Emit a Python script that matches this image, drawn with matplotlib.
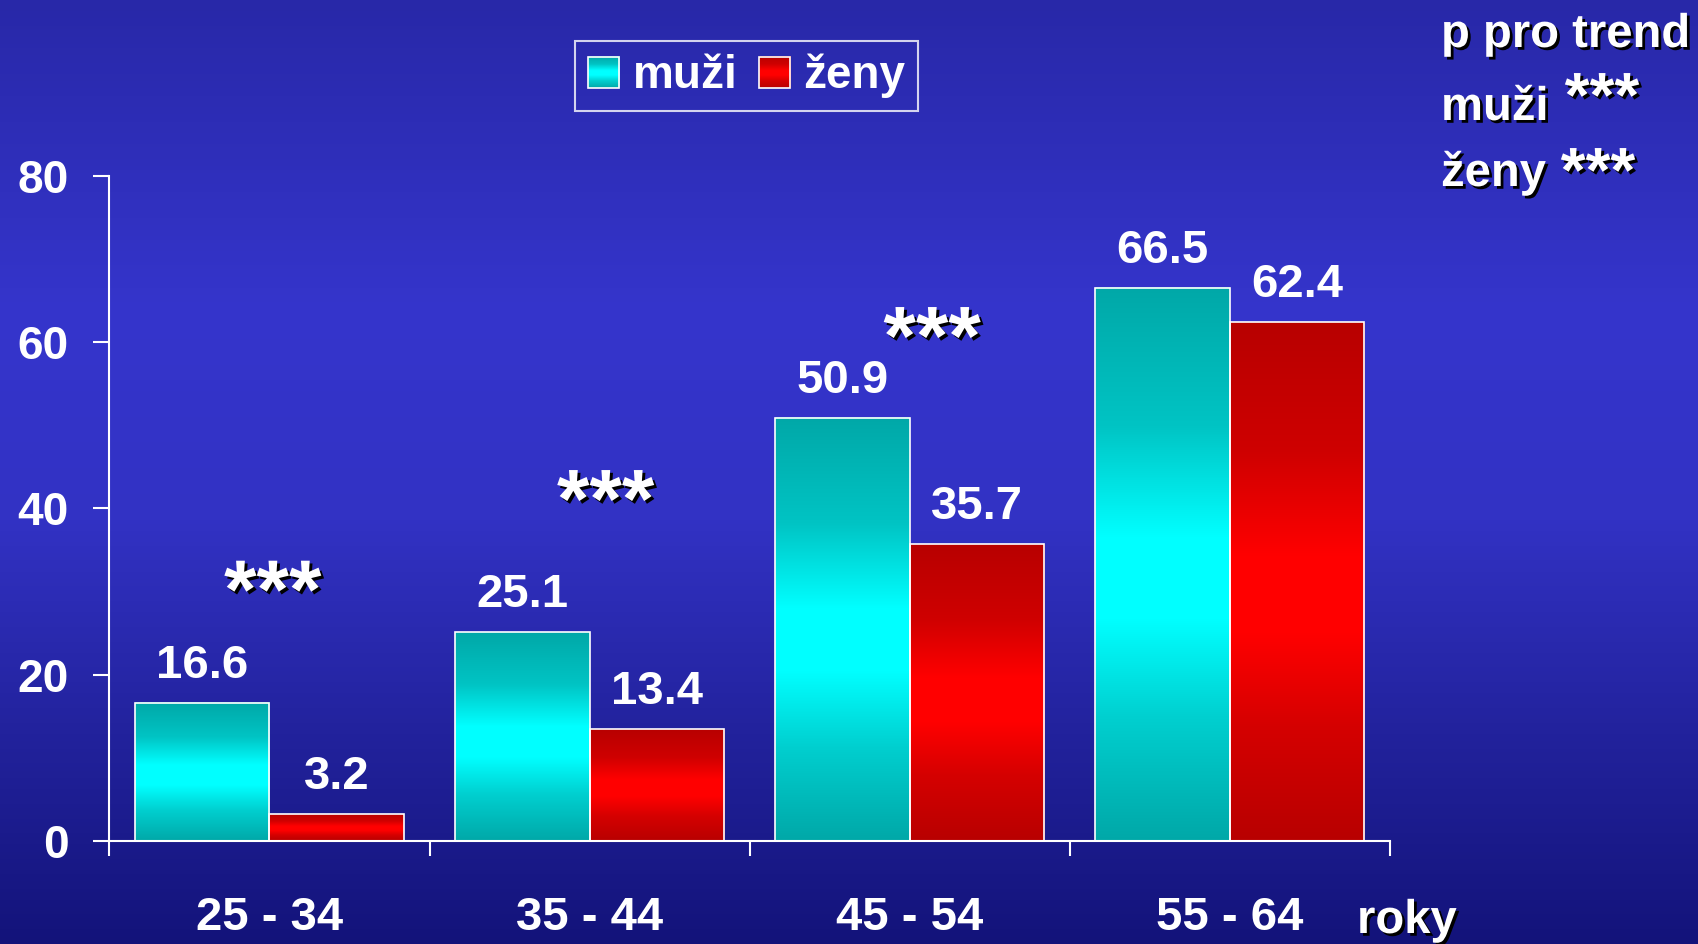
import matplotlib
matplotlib.use('Agg')
import matplotlib.pyplot as plt
import matplotlib.patheffects as pe
import numpy as np
from matplotlib.colors import LinearSegmentedColormap
from matplotlib.legend_handler import HandlerBase
from matplotlib.image import BboxImage
from matplotlib.transforms import Bbox, TransformedBbox
from matplotlib.patches import Rectangle

plt.rcParams['font.family'] = ['Liberation Sans', 'DejaVu Sans']
plt.rcParams['font.weight'] = 'bold'

# Data
age_groups = ['25 - 34', '35 - 44', '45 - 54', '55 - 64']
muzi = [16.6, 25.1, 50.9, 66.5]
zeny = [3.2, 13.4, 35.7, 62.4]
series_names = ['muži', 'ženy']
# significance stars between sexes (group index, baseline height)
star_groups = [0, 1, 2]
star_levels = [26.8, 37.7, 57.3]
star_xshift = [0.01, 1.05, 2.07]

# Colours
bg_cmap = LinearSegmentedColormap.from_list('bg', [(0, '#2828a8'), (0.33, '#3535cc'), (0.55, '#3232c4'),
                                                   (0.78, '#22229c'), (1, '#13137a')])
cyan_cmap = LinearSegmentedColormap.from_list('cy', [(0, '#00a8a8'), (0.25, '#00c4c4'), (0.45, '#00ffff'),
                                                     (0.6, '#00ffff'), (0.78, '#00cfcf'), (1, '#00a8a8')])
red_cmap = LinearSegmentedColormap.from_list('rd', [(0, '#b80000'), (0.25, '#cf0000'), (0.45, '#ff0000'),
                                                    (0.6, '#ff0000'), (0.78, '#d50000'), (1, '#b80000')])
grad = np.linspace(0, 1, 256).reshape(-1, 1)
shadow = [pe.SimplePatchShadow(offset=(2, -2), shadow_rgbFace='black', alpha=1.0), pe.Normal()]


class GradientHandler(HandlerBase):
    def __init__(self, cmap):
        super().__init__()
        self.cmap = cmap

    def create_artists(self, legend, orig_handle, xdescent, ydescent, width, height, fontsize, trans):
        side = min(width, height)
        x0 = -xdescent + (width - side) / 2
        y0 = -ydescent + (height - side) / 2
        img = BboxImage(TransformedBbox(Bbox.from_bounds(x0, y0, side, side), trans),
                        cmap=self.cmap, interpolation='bilinear')
        img.set_data(np.linspace(0, 1, 64).reshape(-1, 1))
        rect = Rectangle((x0, y0), side, side, facecolor='none', edgecolor='white', lw=1.2, transform=trans)
        return [img, rect]


fig = plt.figure(figsize=(16.99, 9.44), dpi=100)

# background gradient
bg = fig.add_axes([0, 0, 1, 1])
bg.imshow(grad, aspect='auto', cmap=bg_cmap, extent=[0, 1, 0, 1], origin='upper')
bg.axis('off')

ax = fig.add_axes([0.0644, 0.1092, 0.7536, 0.7048])
ax.patch.set_visible(False)

x = np.arange(len(age_groups))
w = 0.42
bars_m = ax.bar(x - w / 2, muzi, w, facecolor='none', edgecolor='white', lw=1.2, zorder=3)
bars_z = ax.bar(x + w / 2, zeny, w, facecolor='none', edgecolor='white', lw=1.2, zorder=3)

for bars, cmap in [(bars_m, cyan_cmap), (bars_z, red_cmap)]:
    for b in bars:
        ax.imshow(grad, cmap=cmap, aspect='auto', origin='upper', zorder=2, interpolation='bilinear',
                  extent=[b.get_x(), b.get_x() + b.get_width(), 0, b.get_height()])
        ax.annotate(f'{b.get_height():.1f}', (b.get_x() + b.get_width() / 2, b.get_height()),
                    xytext=(0, 18), textcoords='offset points', ha='center', va='baseline',
                    color='white', fontsize=34)

for g, lvl, sx in zip(star_groups, star_levels, star_xshift):
    ax.text(sx, lvl, '***', ha='center', va='baseline', color='white', fontsize=60,
            path_effects=shadow)

ax.set_xlim(-0.5, 3.5)
ax.set_ylim(0, 80)
ax.set_yticks([0, 20, 40, 60, 80])
ax.set_xticks(x)
ax.set_xticklabels(age_groups)
ax.set_xticks(np.arange(-0.5, 4, 1), minor=True)
ax.tick_params(axis='x', which='major', length=0, pad=40, labelsize=34, labelcolor='white')
ax.tick_params(axis='x', which='minor', length=11, width=1.5, color='white')
ax.tick_params(axis='y', length=11.5, width=1.5, color='white', pad=18, labelsize=33, labelcolor='white')
for s in ['top', 'right']:
    ax.spines[s].set_visible(False)
for s in ['left', 'bottom']:
    ax.spines[s].set_color('white')
    ax.spines[s].set_linewidth(1.5)

# legend
h_m = Rectangle((0, 0), 1, 1)
h_z = Rectangle((0, 0), 1, 1)
leg = ax.legend([h_m, h_z], series_names, ncol=2, loc='upper left',
                bbox_to_anchor=(575 / 1699, 1 - 41 / 944), bbox_transform=fig.transFigure,
                borderaxespad=0, fontsize=33, frameon=True, fancybox=False,
                handlelength=0.68, handleheight=0.68, handletextpad=0.30, columnspacing=0.46,
                borderpad=0.28,
                handler_map={h_m: GradientHandler(cyan_cmap), h_z: GradientHandler(red_cmap)})
leg.get_frame().set_facecolor('none')
leg.get_frame().set_edgecolor('white')
leg.get_frame().set_linewidth(1.5)
for t in leg.get_texts():
    t.set_color('white')

# trend text
fig.text(1441 / 1699, 1 - 47 / 944, 'p pro trend', color='white', fontsize=34, va='baseline', path_effects=shadow)
fig.text(1441 / 1699, 1 - 120 / 944, 'muži', color='white', fontsize=34, va='baseline', path_effects=shadow)
fig.text(1441 / 1699, 1 - 186 / 944, 'ženy', color='white', fontsize=34, va='baseline', path_effects=shadow)
fig.text(1602 / 1699, 1 - 117 / 944, '***', color='white', fontsize=46, va='baseline', ha='center',
         path_effects=shadow)
fig.text(1598 / 1699, 1 - 192 / 944, '***', color='white', fontsize=46, va='baseline', ha='center',
         path_effects=shadow)
fig.text(1357 / 1699, 1 - 933 / 944, 'roky', color='white', fontsize=34, va='baseline', path_effects=shadow)

fig.savefig('out.png', dpi=100)
